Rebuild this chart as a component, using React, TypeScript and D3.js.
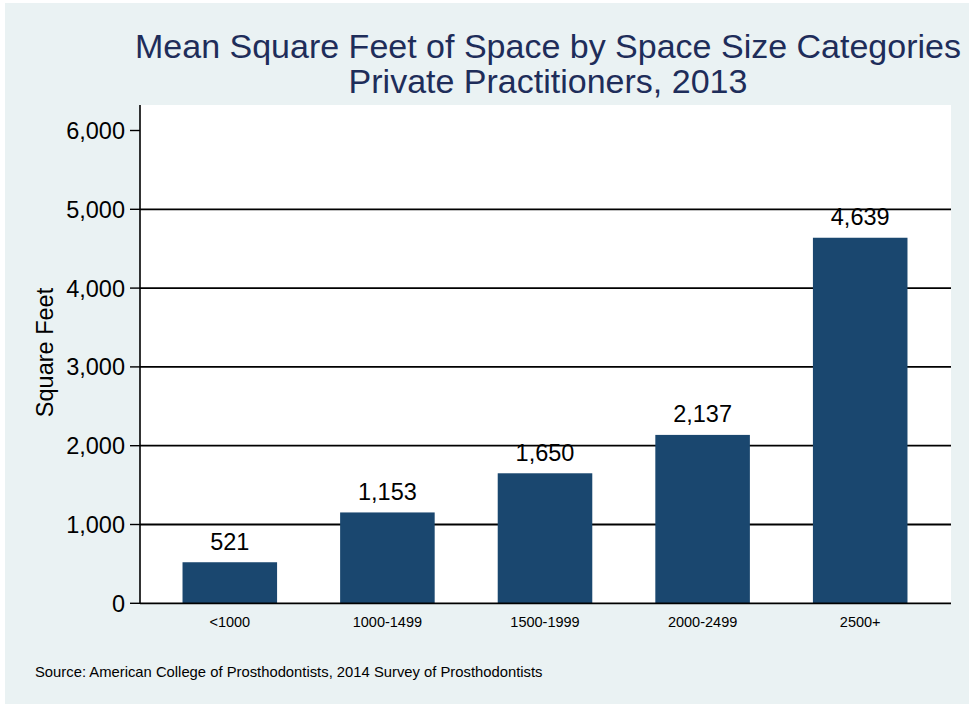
import React from "react";
import * as d3 from "d3";

const categories = ["<1000", "1000-1499", "1500-1999", "2000-2499", "2500+"];
const values = [521, 1153, 1650, 2137, 4639];
const yTicks = [0, 1000, 2000, 3000, 4000, 5000, 6000];
const gridValues = [1000, 2000, 3000, 4000, 5000];
const titleLines = ["Mean Square Feet of Space by Space Size Categories", "Private Practitioners, 2013"];
const yTitle = "Square Feet";
const sourceNote = "Source: American College of Prosthodontists, 2014 Survey of Prosthodontists";

const W = 973;
const H = 707;
const plot = { left: 140, right: 951, top: 105, bottom: 603.3 };
const FONT = "'Liberation Sans', Arial, Helvetica, sans-serif";
const BAR = "#1a476f";
const TITLE = "#1e2d5a";
const BG = "#eaf2f3";

export default function App() {
  const y = d3.scaleLinear().domain([0, 6000]).range([603.3, 130.5]);
  const x = d3
    .scaleBand<string>()
    .domain(categories)
    .range([151, 939])
    .paddingInner(0.4)
    .paddingOuter(0.2);
  const fmt = d3.format(",");

  return (
    <svg
      width={W}
      height={H}
      style={{ position: "absolute", left: 0, top: 0, fontFamily: FONT }}
    >
      <rect x={0} y={0} width={W} height={H} fill="#ffffff" />
      <rect x={5} y={3} width={964} height={701} fill={BG} />
      <rect
        x={plot.left}
        y={plot.top}
        width={plot.right - plot.left}
        height={plot.bottom - plot.top}
        fill="#ffffff"
      />
      {titleLines.map((t, i) => (
        <text
          key={t}
          x={548}
          y={58.3 + i * 35}
          textAnchor="middle"
          fontSize={34}
          fill={TITLE}
        >
          {t}
        </text>
      ))}
      {gridValues.map((v) => (
        <line
          key={v}
          x1={plot.left}
          x2={plot.right}
          y1={y(v)}
          y2={y(v)}
          stroke="#000"
          strokeWidth={1.8}
        />
      ))}
      {categories.map((c, i) => (
        <rect
          key={c}
          x={x(c)}
          y={y(values[i])}
          width={x.bandwidth()}
          height={y(0) - y(values[i])}
          fill={BAR}
        />
      ))}
      {categories.map((c, i) => (
        <text
          key={c + "v"}
          x={(x(c) as number) + x.bandwidth() / 2}
          y={y(values[i]) - 12.5}
          textAnchor="middle"
          fontSize={23.5}
          fill="#000"
        >
          {fmt(values[i])}
        </text>
      ))}
      <line x1={plot.left} x2={plot.right} y1={y(0)} y2={y(0)} stroke="#000" strokeWidth={1.8} />
      <line x1={plot.left} x2={plot.left} y1={plot.top} y2={y(0)} stroke="#000" strokeWidth={1.6} />
      {yTicks.map((v) => (
        <g key={v}>
          <line x1={plot.left - 10} x2={plot.left} y1={y(v)} y2={y(v)} stroke="#000" strokeWidth={1.4} />
          <text x={125} y={y(v)} dy="0.36em" textAnchor="end" fontSize={23.5} fill="#000">
            {fmt(v)}
          </text>
        </g>
      ))}
      {categories.map((c) => (
        <text
          key={c + "x"}
          x={(x(c) as number) + x.bandwidth() / 2}
          y={627}
          textAnchor="middle"
          fontSize={14.5}
          fill="#000"
        >
          {c}
        </text>
      ))}
      <text
        transform="translate(53,352.5) rotate(-90)"
        textAnchor="middle"
        fontSize={23.5}
        fill="#000"
      >
        {yTitle}
      </text>
      <text x={35} y={677} fontSize={14.8} fill="#000">
        {sourceNote}
      </text>
    </svg>
  );
}
